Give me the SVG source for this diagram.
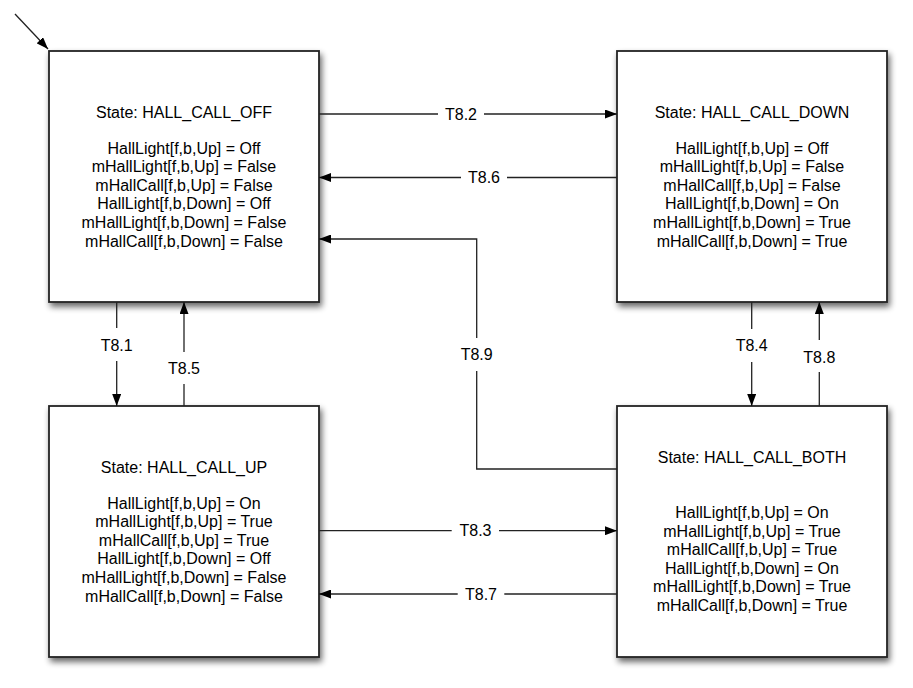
<svg xmlns="http://www.w3.org/2000/svg" width="913" height="688" viewBox="0 0 913 688">
<defs>
<filter id="sh" x="-10%" y="-10%" width="125%" height="125%">
<feGaussianBlur in="SourceAlpha" stdDeviation="3"/>
<feOffset dx="2" dy="4" result="b"/>
<feComponentTransfer><feFuncA type="linear" slope="0.6"/></feComponentTransfer>
<feMerge><feMergeNode/><feMergeNode in="SourceGraphic"/></feMerge>
</filter>
<marker id="ah" viewBox="0 0 12 9" refX="12" refY="4.5" markerWidth="12" markerHeight="9" markerUnits="userSpaceOnUse" orient="auto">
<path d="M0,0 L12,4.5 L0,9 Z" fill="#000"/>
</marker>
</defs>
<style>
.box{fill:#fff;stroke:#222;stroke-width:1.8;filter:url(#sh)}
.t{font-family:"Liberation Sans",Arial,sans-serif;font-size:16px;fill:#000;text-anchor:middle;dominant-baseline:central}
.c{fill:none;stroke:#222;stroke-width:1.3}
.a{marker-end:url(#ah)}
</style>
<rect width="913" height="688" fill="#fff"/>
<g id="HALL_CALL_OFF">
<rect class="box" x="49" y="51" width="270" height="251"/>
<text class="t" x="184" y="112">State: HALL_CALL_OFF</text>
<text class="t" x="184" y="148">HallLight[f,b,Up] = Off</text>
<text class="t" x="184" y="166.6">mHallLight[f,b,Up] = False</text>
<text class="t" x="184" y="185.2">mHallCall[f,b,Up] = False</text>
<text class="t" x="184" y="203.8">HallLight[f,b,Down] = Off</text>
<text class="t" x="184" y="222.4">mHallLight[f,b,Down] = False</text>
<text class="t" x="184" y="241">mHallCall[f,b,Down] = False</text>
</g>
<g id="HALL_CALL_DOWN">
<rect class="box" x="617" y="51" width="270" height="251"/>
<text class="t" x="752" y="112">State: HALL_CALL_DOWN</text>
<text class="t" x="752" y="148">HallLight[f,b,Up] = Off</text>
<text class="t" x="752" y="166.6">mHallLight[f,b,Up] = False</text>
<text class="t" x="752" y="185.2">mHallCall[f,b,Up] = False</text>
<text class="t" x="752" y="203.8">HallLight[f,b,Down] = On</text>
<text class="t" x="752" y="222.4">mHallLight[f,b,Down] = True</text>
<text class="t" x="752" y="241">mHallCall[f,b,Down] = True</text>
</g>
<g id="HALL_CALL_UP">
<rect class="box" x="49" y="406" width="270" height="251"/>
<text class="t" x="184" y="467">State: HALL_CALL_UP</text>
<text class="t" x="184" y="503">HallLight[f,b,Up] = On</text>
<text class="t" x="184" y="521.6">mHallLight[f,b,Up] = True</text>
<text class="t" x="184" y="540.2">mHallCall[f,b,Up] = True</text>
<text class="t" x="184" y="558.8">HallLight[f,b,Down] = Off</text>
<text class="t" x="184" y="577.4">mHallLight[f,b,Down] = False</text>
<text class="t" x="184" y="596">mHallCall[f,b,Down] = False</text>
</g>
<g id="HALL_CALL_BOTH">
<rect class="box" x="617" y="406" width="270" height="251"/>
<text class="t" x="752" y="457">State: HALL_CALL_BOTH</text>
<text class="t" x="752" y="512.5">HallLight[f,b,Up] = On</text>
<text class="t" x="752" y="531.1">mHallLight[f,b,Up] = True</text>
<text class="t" x="752" y="549.7">mHallCall[f,b,Up] = True</text>
<text class="t" x="752" y="568.3">HallLight[f,b,Down] = On</text>
<text class="t" x="752" y="586.9">mHallLight[f,b,Down] = True</text>
<text class="t" x="752" y="605.5">mHallCall[f,b,Down] = True</text>
</g>
<g id="connectors">
<line class="c a" x1="15" y1="14" x2="48" y2="49"/>
<line class="c" x1="319" y1="114" x2="438" y2="114"/>
<line class="c a" x1="484" y1="114" x2="617" y2="114"/>
<text class="t" x="461" y="114">T8.2</text>
<line class="c" x1="617" y1="177.5" x2="507" y2="177.5"/>
<line class="c a" x1="461" y1="177.5" x2="319" y2="177.5"/>
<text class="t" x="484" y="177.5">T8.6</text>
<polyline class="c" points="617,469 476.7,469 476.7,371"/>
<polyline class="c a" points="476.7,338 476.7,239 319,239"/>
<text class="t" x="476.7" y="354">T8.9</text>
<line class="c" x1="116.7" y1="302" x2="116.7" y2="328"/>
<line class="c a" x1="116.7" y1="361" x2="116.7" y2="406"/>
<text class="t" x="116.7" y="345">T8.1</text>
<line class="c" x1="184" y1="406" x2="184" y2="384"/>
<line class="c a" x1="184" y1="352" x2="184" y2="302"/>
<text class="t" x="184" y="368.5">T8.5</text>
<line class="c" x1="751.7" y1="302" x2="751.7" y2="329"/>
<line class="c a" x1="751.7" y1="362" x2="751.7" y2="406"/>
<text class="t" x="751.7" y="345">T8.4</text>
<line class="c" x1="819.3" y1="406" x2="819.3" y2="372"/>
<line class="c a" x1="819.3" y1="340" x2="819.3" y2="302"/>
<text class="t" x="819.3" y="357">T8.8</text>
<line class="c" x1="319" y1="530.7" x2="451.7" y2="530.7"/>
<line class="c a" x1="499" y1="530.7" x2="617" y2="530.7"/>
<text class="t" x="475.5" y="530.7">T8.3</text>
<line class="c" x1="617" y1="594" x2="504.3" y2="594"/>
<line class="c a" x1="457.7" y1="594" x2="319" y2="594"/>
<text class="t" x="481" y="594">T8.7</text>
</g>
</svg>
